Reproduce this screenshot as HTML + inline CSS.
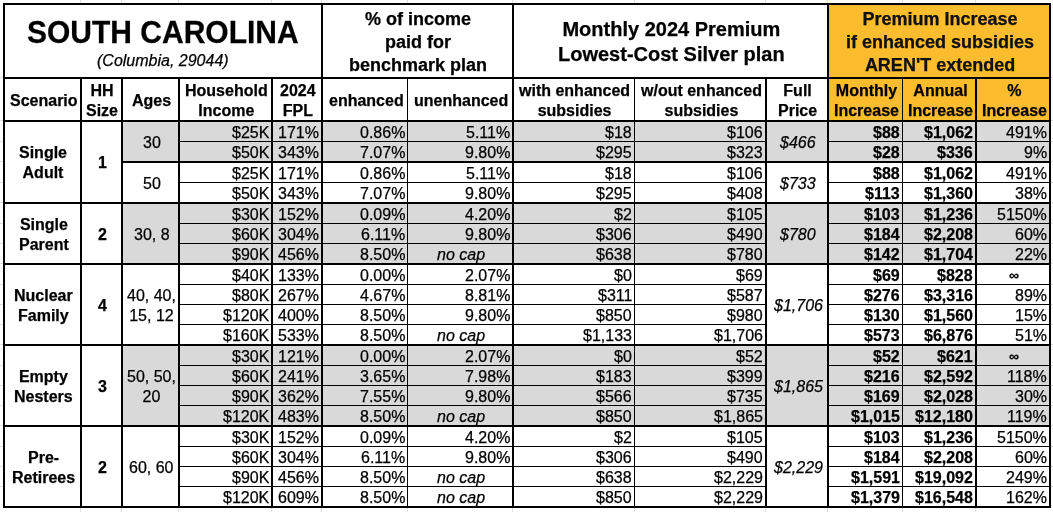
<!DOCTYPE html>
<html><head><meta charset="utf-8"><style>
*{margin:0;padding:0;box-sizing:border-box}
html,body{width:1053px;height:512px;overflow:hidden;background:#fff}
body{position:relative;font-family:"Liberation Sans",sans-serif;color:#000}
div{position:absolute}
.k{background:#000}
.t{display:flex;align-items:center;white-space:nowrap;font-size:16px;line-height:20px;-webkit-text-stroke:0.25px #000}
.t span{will-change:transform}
.t span{display:block}
.hb{font-weight:bold}
.bd{font-weight:bold}
.it{font-style:italic}
.inf{font-size:14px;font-weight:bold;margin-top:-1px}
.b18{font-weight:bold;font-size:18px;line-height:23px}
.b18o{font-weight:bold;font-size:18px;line-height:23px;color:#111}
.b20{font-weight:bold;font-size:20px;line-height:25px}
.big{font-size:30px;line-height:36px;font-weight:bold}.big span{transform:scaleY(1.065)}
.sub{font-style:italic}
</style></head><body>
<div style="left:829px;top:5px;width:220px;height:115px;background:#fbbc2e"></div><div style="left:123px;top:122px;width:926px;height:39px;background:#d9d9d9"></div><div style="left:123px;top:204px;width:926px;height:59px;background:#d9d9d9"></div><div style="left:123px;top:346px;width:926px;height:79px;background:#d9d9d9"></div><div class="t big" style="left:5px;top:14px;width:316px;height:36px;justify-content:center"><span>SOUTH CAROLINA</span></div><div class="t sub" style="left:5px;top:51px;width:316px;height:20px;justify-content:center"><span>(Columbia, 29044)</span></div><div class="t b18" style="left:324px;top:6px;width:189px;height:72px;justify-content:center;text-align:center;"><span>% of income<br>paid for<br>benchmark plan</span></div><div class="t b20" style="left:515px;top:6px;width:313px;height:72px;justify-content:center;text-align:center;"><span>Monthly 2024 Premium<br>Lowest-Cost Silver plan</span></div><div class="t b18o" style="left:830px;top:6px;width:220px;height:72px;justify-content:center;text-align:center;"><span>Premium Increase<br>if enhanced subsidies<br>AREN'T extended</span></div><div class="t hb" style="left:6px;top:80px;width:75px;height:41px;justify-content:center;text-align:center;"><span>Scenario</span></div><div class="t hb" style="left:83px;top:80px;width:39px;height:41px;justify-content:center;text-align:center;"><span>HH<br>Size</span></div><div class="t hb" style="left:124px;top:80px;width:55px;height:41px;justify-content:center;text-align:center;"><span>Ages</span></div><div class="t hb" style="left:181px;top:80px;width:91px;height:41px;justify-content:center;text-align:center;"><span>Household<br>Income</span></div><div class="t hb" style="left:274px;top:80px;width:48px;height:41px;justify-content:center;text-align:center;"><span>2024<br>FPL</span></div><div class="t hb" style="left:324px;top:80px;width:84px;height:41px;justify-content:center;text-align:center;"><span>enhanced</span></div><div class="t hb" style="left:409px;top:80px;width:104px;height:41px;justify-content:center;text-align:center;"><span>unenhanced</span></div><div class="t hb" style="left:515px;top:80px;width:120px;height:41px;justify-content:center;text-align:center;"><span>with enhanced<br>subsidies</span></div><div class="t hb" style="left:636px;top:80px;width:130px;height:41px;justify-content:center;text-align:center;"><span>w/out enhanced<br>subsidies</span></div><div class="t hb" style="left:768px;top:80px;width:60px;height:41px;justify-content:center;text-align:center;"><span>Full<br>Price</span></div><div class="t hb" style="left:830px;top:80px;width:73px;height:41px;justify-content:center;text-align:center;"><span>Monthly<br>Increase</span></div><div class="t hb" style="left:904px;top:80px;width:72px;height:41px;justify-content:center;text-align:center;"><span>Annual<br>Increase</span></div><div class="t hb" style="left:978px;top:80px;width:72px;height:41px;justify-content:center;text-align:center;"><span>%<br>Increase</span></div><div class="t rg" style="left:180px;top:123px;width:91px;height:19px;justify-content:flex-end;text-align:right;padding-right:2px;"><span>$25K</span></div><div class="t rg" style="left:273px;top:123px;width:48px;height:19px;justify-content:flex-end;text-align:right;padding-right:2px;"><span>171%</span></div><div class="t rg" style="left:323px;top:123px;width:84px;height:19px;justify-content:flex-end;text-align:right;padding-right:2px;"><span>0.86%</span></div><div class="t rg" style="left:408px;top:123px;width:104px;height:19px;justify-content:flex-end;text-align:right;padding-right:2px;"><span>5.11%</span></div><div class="t rg" style="left:514px;top:123px;width:120px;height:19px;justify-content:flex-end;text-align:right;padding-right:2px;"><span>$18</span></div><div class="t rg" style="left:635px;top:123px;width:130px;height:19px;justify-content:flex-end;text-align:right;padding-right:2px;"><span>$106</span></div><div class="t bd" style="left:829px;top:123px;width:73px;height:19px;justify-content:flex-end;text-align:right;padding-right:2px;"><span>$88</span></div><div class="t bd" style="left:903px;top:123px;width:72px;height:19px;justify-content:flex-end;text-align:right;padding-right:2px;"><span>$1,062</span></div><div class="t rg" style="left:977px;top:123px;width:72px;height:19px;justify-content:flex-end;text-align:right;padding-right:2px;"><span>491%</span></div><div class="t rg" style="left:180px;top:143px;width:91px;height:19px;justify-content:flex-end;text-align:right;padding-right:2px;"><span>$50K</span></div><div class="t rg" style="left:273px;top:143px;width:48px;height:19px;justify-content:flex-end;text-align:right;padding-right:2px;"><span>343%</span></div><div class="t rg" style="left:323px;top:143px;width:84px;height:19px;justify-content:flex-end;text-align:right;padding-right:2px;"><span>7.07%</span></div><div class="t rg" style="left:408px;top:143px;width:104px;height:19px;justify-content:flex-end;text-align:right;padding-right:2px;"><span>9.80%</span></div><div class="t rg" style="left:514px;top:143px;width:120px;height:19px;justify-content:flex-end;text-align:right;padding-right:2px;"><span>$295</span></div><div class="t rg" style="left:635px;top:143px;width:130px;height:19px;justify-content:flex-end;text-align:right;padding-right:2px;"><span>$323</span></div><div class="t bd" style="left:829px;top:143px;width:73px;height:19px;justify-content:flex-end;text-align:right;padding-right:2px;"><span>$28</span></div><div class="t bd" style="left:903px;top:143px;width:72px;height:19px;justify-content:flex-end;text-align:right;padding-right:2px;"><span>$336</span></div><div class="t rg" style="left:977px;top:143px;width:72px;height:19px;justify-content:flex-end;text-align:right;padding-right:2px;"><span>9%</span></div><div class="t rg" style="left:180px;top:164px;width:91px;height:19px;justify-content:flex-end;text-align:right;padding-right:2px;"><span>$25K</span></div><div class="t rg" style="left:273px;top:164px;width:48px;height:19px;justify-content:flex-end;text-align:right;padding-right:2px;"><span>171%</span></div><div class="t rg" style="left:323px;top:164px;width:84px;height:19px;justify-content:flex-end;text-align:right;padding-right:2px;"><span>0.86%</span></div><div class="t rg" style="left:408px;top:164px;width:104px;height:19px;justify-content:flex-end;text-align:right;padding-right:2px;"><span>5.11%</span></div><div class="t rg" style="left:514px;top:164px;width:120px;height:19px;justify-content:flex-end;text-align:right;padding-right:2px;"><span>$18</span></div><div class="t rg" style="left:635px;top:164px;width:130px;height:19px;justify-content:flex-end;text-align:right;padding-right:2px;"><span>$106</span></div><div class="t bd" style="left:829px;top:164px;width:73px;height:19px;justify-content:flex-end;text-align:right;padding-right:2px;"><span>$88</span></div><div class="t bd" style="left:903px;top:164px;width:72px;height:19px;justify-content:flex-end;text-align:right;padding-right:2px;"><span>$1,062</span></div><div class="t rg" style="left:977px;top:164px;width:72px;height:19px;justify-content:flex-end;text-align:right;padding-right:2px;"><span>491%</span></div><div class="t rg" style="left:180px;top:184px;width:91px;height:19px;justify-content:flex-end;text-align:right;padding-right:2px;"><span>$50K</span></div><div class="t rg" style="left:273px;top:184px;width:48px;height:19px;justify-content:flex-end;text-align:right;padding-right:2px;"><span>343%</span></div><div class="t rg" style="left:323px;top:184px;width:84px;height:19px;justify-content:flex-end;text-align:right;padding-right:2px;"><span>7.07%</span></div><div class="t rg" style="left:408px;top:184px;width:104px;height:19px;justify-content:flex-end;text-align:right;padding-right:2px;"><span>9.80%</span></div><div class="t rg" style="left:514px;top:184px;width:120px;height:19px;justify-content:flex-end;text-align:right;padding-right:2px;"><span>$295</span></div><div class="t rg" style="left:635px;top:184px;width:130px;height:19px;justify-content:flex-end;text-align:right;padding-right:2px;"><span>$408</span></div><div class="t bd" style="left:829px;top:184px;width:73px;height:19px;justify-content:flex-end;text-align:right;padding-right:2px;"><span>$113</span></div><div class="t bd" style="left:903px;top:184px;width:72px;height:19px;justify-content:flex-end;text-align:right;padding-right:2px;"><span>$1,360</span></div><div class="t rg" style="left:977px;top:184px;width:72px;height:19px;justify-content:flex-end;text-align:right;padding-right:2px;"><span>38%</span></div><div class="t rg" style="left:180px;top:205px;width:91px;height:19px;justify-content:flex-end;text-align:right;padding-right:2px;"><span>$30K</span></div><div class="t rg" style="left:273px;top:205px;width:48px;height:19px;justify-content:flex-end;text-align:right;padding-right:2px;"><span>152%</span></div><div class="t rg" style="left:323px;top:205px;width:84px;height:19px;justify-content:flex-end;text-align:right;padding-right:2px;"><span>0.09%</span></div><div class="t rg" style="left:408px;top:205px;width:104px;height:19px;justify-content:flex-end;text-align:right;padding-right:2px;"><span>4.20%</span></div><div class="t rg" style="left:514px;top:205px;width:120px;height:19px;justify-content:flex-end;text-align:right;padding-right:2px;"><span>$2</span></div><div class="t rg" style="left:635px;top:205px;width:130px;height:19px;justify-content:flex-end;text-align:right;padding-right:2px;"><span>$105</span></div><div class="t bd" style="left:829px;top:205px;width:73px;height:19px;justify-content:flex-end;text-align:right;padding-right:2px;"><span>$103</span></div><div class="t bd" style="left:903px;top:205px;width:72px;height:19px;justify-content:flex-end;text-align:right;padding-right:2px;"><span>$1,236</span></div><div class="t rg" style="left:977px;top:205px;width:72px;height:19px;justify-content:flex-end;text-align:right;padding-right:2px;"><span>5150%</span></div><div class="t rg" style="left:180px;top:225px;width:91px;height:19px;justify-content:flex-end;text-align:right;padding-right:2px;"><span>$60K</span></div><div class="t rg" style="left:273px;top:225px;width:48px;height:19px;justify-content:flex-end;text-align:right;padding-right:2px;"><span>304%</span></div><div class="t rg" style="left:323px;top:225px;width:84px;height:19px;justify-content:flex-end;text-align:right;padding-right:2px;"><span>6.11%</span></div><div class="t rg" style="left:408px;top:225px;width:104px;height:19px;justify-content:flex-end;text-align:right;padding-right:2px;"><span>9.80%</span></div><div class="t rg" style="left:514px;top:225px;width:120px;height:19px;justify-content:flex-end;text-align:right;padding-right:2px;"><span>$306</span></div><div class="t rg" style="left:635px;top:225px;width:130px;height:19px;justify-content:flex-end;text-align:right;padding-right:2px;"><span>$490</span></div><div class="t bd" style="left:829px;top:225px;width:73px;height:19px;justify-content:flex-end;text-align:right;padding-right:2px;"><span>$184</span></div><div class="t bd" style="left:903px;top:225px;width:72px;height:19px;justify-content:flex-end;text-align:right;padding-right:2px;"><span>$2,208</span></div><div class="t rg" style="left:977px;top:225px;width:72px;height:19px;justify-content:flex-end;text-align:right;padding-right:2px;"><span>60%</span></div><div class="t rg" style="left:180px;top:245px;width:91px;height:19px;justify-content:flex-end;text-align:right;padding-right:2px;"><span>$90K</span></div><div class="t rg" style="left:273px;top:245px;width:48px;height:19px;justify-content:flex-end;text-align:right;padding-right:2px;"><span>456%</span></div><div class="t rg" style="left:323px;top:245px;width:84px;height:19px;justify-content:flex-end;text-align:right;padding-right:2px;"><span>8.50%</span></div><div class="t it" style="left:409px;top:245px;width:104px;height:19px;justify-content:center;text-align:center;"><span>no cap</span></div><div class="t rg" style="left:514px;top:245px;width:120px;height:19px;justify-content:flex-end;text-align:right;padding-right:2px;"><span>$638</span></div><div class="t rg" style="left:635px;top:245px;width:130px;height:19px;justify-content:flex-end;text-align:right;padding-right:2px;"><span>$780</span></div><div class="t bd" style="left:829px;top:245px;width:73px;height:19px;justify-content:flex-end;text-align:right;padding-right:2px;"><span>$142</span></div><div class="t bd" style="left:903px;top:245px;width:72px;height:19px;justify-content:flex-end;text-align:right;padding-right:2px;"><span>$1,704</span></div><div class="t rg" style="left:977px;top:245px;width:72px;height:19px;justify-content:flex-end;text-align:right;padding-right:2px;"><span>22%</span></div><div class="t rg" style="left:180px;top:266px;width:91px;height:19px;justify-content:flex-end;text-align:right;padding-right:2px;"><span>$40K</span></div><div class="t rg" style="left:273px;top:266px;width:48px;height:19px;justify-content:flex-end;text-align:right;padding-right:2px;"><span>133%</span></div><div class="t rg" style="left:323px;top:266px;width:84px;height:19px;justify-content:flex-end;text-align:right;padding-right:2px;"><span>0.00%</span></div><div class="t rg" style="left:408px;top:266px;width:104px;height:19px;justify-content:flex-end;text-align:right;padding-right:2px;"><span>2.07%</span></div><div class="t rg" style="left:514px;top:266px;width:120px;height:19px;justify-content:flex-end;text-align:right;padding-right:2px;"><span>$0</span></div><div class="t rg" style="left:635px;top:266px;width:130px;height:19px;justify-content:flex-end;text-align:right;padding-right:2px;"><span>$69</span></div><div class="t bd" style="left:829px;top:266px;width:73px;height:19px;justify-content:flex-end;text-align:right;padding-right:2px;"><span>$69</span></div><div class="t bd" style="left:903px;top:266px;width:72px;height:19px;justify-content:flex-end;text-align:right;padding-right:2px;"><span>$828</span></div><div class="t inf" style="left:978px;top:266px;width:72px;height:19px;justify-content:center;text-align:center;"><span>&#8734;</span></div><div class="t rg" style="left:180px;top:286px;width:91px;height:19px;justify-content:flex-end;text-align:right;padding-right:2px;"><span>$80K</span></div><div class="t rg" style="left:273px;top:286px;width:48px;height:19px;justify-content:flex-end;text-align:right;padding-right:2px;"><span>267%</span></div><div class="t rg" style="left:323px;top:286px;width:84px;height:19px;justify-content:flex-end;text-align:right;padding-right:2px;"><span>4.67%</span></div><div class="t rg" style="left:408px;top:286px;width:104px;height:19px;justify-content:flex-end;text-align:right;padding-right:2px;"><span>8.81%</span></div><div class="t rg" style="left:514px;top:286px;width:120px;height:19px;justify-content:flex-end;text-align:right;padding-right:2px;"><span>$311</span></div><div class="t rg" style="left:635px;top:286px;width:130px;height:19px;justify-content:flex-end;text-align:right;padding-right:2px;"><span>$587</span></div><div class="t bd" style="left:829px;top:286px;width:73px;height:19px;justify-content:flex-end;text-align:right;padding-right:2px;"><span>$276</span></div><div class="t bd" style="left:903px;top:286px;width:72px;height:19px;justify-content:flex-end;text-align:right;padding-right:2px;"><span>$3,316</span></div><div class="t rg" style="left:977px;top:286px;width:72px;height:19px;justify-content:flex-end;text-align:right;padding-right:2px;"><span>89%</span></div><div class="t rg" style="left:180px;top:306px;width:91px;height:19px;justify-content:flex-end;text-align:right;padding-right:2px;"><span>$120K</span></div><div class="t rg" style="left:273px;top:306px;width:48px;height:19px;justify-content:flex-end;text-align:right;padding-right:2px;"><span>400%</span></div><div class="t rg" style="left:323px;top:306px;width:84px;height:19px;justify-content:flex-end;text-align:right;padding-right:2px;"><span>8.50%</span></div><div class="t rg" style="left:408px;top:306px;width:104px;height:19px;justify-content:flex-end;text-align:right;padding-right:2px;"><span>9.80%</span></div><div class="t rg" style="left:514px;top:306px;width:120px;height:19px;justify-content:flex-end;text-align:right;padding-right:2px;"><span>$850</span></div><div class="t rg" style="left:635px;top:306px;width:130px;height:19px;justify-content:flex-end;text-align:right;padding-right:2px;"><span>$980</span></div><div class="t bd" style="left:829px;top:306px;width:73px;height:19px;justify-content:flex-end;text-align:right;padding-right:2px;"><span>$130</span></div><div class="t bd" style="left:903px;top:306px;width:72px;height:19px;justify-content:flex-end;text-align:right;padding-right:2px;"><span>$1,560</span></div><div class="t rg" style="left:977px;top:306px;width:72px;height:19px;justify-content:flex-end;text-align:right;padding-right:2px;"><span>15%</span></div><div class="t rg" style="left:180px;top:326px;width:91px;height:19px;justify-content:flex-end;text-align:right;padding-right:2px;"><span>$160K</span></div><div class="t rg" style="left:273px;top:326px;width:48px;height:19px;justify-content:flex-end;text-align:right;padding-right:2px;"><span>533%</span></div><div class="t rg" style="left:323px;top:326px;width:84px;height:19px;justify-content:flex-end;text-align:right;padding-right:2px;"><span>8.50%</span></div><div class="t it" style="left:409px;top:326px;width:104px;height:19px;justify-content:center;text-align:center;"><span>no cap</span></div><div class="t rg" style="left:514px;top:326px;width:120px;height:19px;justify-content:flex-end;text-align:right;padding-right:2px;"><span>$1,133</span></div><div class="t rg" style="left:635px;top:326px;width:130px;height:19px;justify-content:flex-end;text-align:right;padding-right:2px;"><span>$1,706</span></div><div class="t bd" style="left:829px;top:326px;width:73px;height:19px;justify-content:flex-end;text-align:right;padding-right:2px;"><span>$573</span></div><div class="t bd" style="left:903px;top:326px;width:72px;height:19px;justify-content:flex-end;text-align:right;padding-right:2px;"><span>$6,876</span></div><div class="t rg" style="left:977px;top:326px;width:72px;height:19px;justify-content:flex-end;text-align:right;padding-right:2px;"><span>51%</span></div><div class="t rg" style="left:180px;top:347px;width:91px;height:19px;justify-content:flex-end;text-align:right;padding-right:2px;"><span>$30K</span></div><div class="t rg" style="left:273px;top:347px;width:48px;height:19px;justify-content:flex-end;text-align:right;padding-right:2px;"><span>121%</span></div><div class="t rg" style="left:323px;top:347px;width:84px;height:19px;justify-content:flex-end;text-align:right;padding-right:2px;"><span>0.00%</span></div><div class="t rg" style="left:408px;top:347px;width:104px;height:19px;justify-content:flex-end;text-align:right;padding-right:2px;"><span>2.07%</span></div><div class="t rg" style="left:514px;top:347px;width:120px;height:19px;justify-content:flex-end;text-align:right;padding-right:2px;"><span>$0</span></div><div class="t rg" style="left:635px;top:347px;width:130px;height:19px;justify-content:flex-end;text-align:right;padding-right:2px;"><span>$52</span></div><div class="t bd" style="left:829px;top:347px;width:73px;height:19px;justify-content:flex-end;text-align:right;padding-right:2px;"><span>$52</span></div><div class="t bd" style="left:903px;top:347px;width:72px;height:19px;justify-content:flex-end;text-align:right;padding-right:2px;"><span>$621</span></div><div class="t inf" style="left:978px;top:347px;width:72px;height:19px;justify-content:center;text-align:center;"><span>&#8734;</span></div><div class="t rg" style="left:180px;top:367px;width:91px;height:19px;justify-content:flex-end;text-align:right;padding-right:2px;"><span>$60K</span></div><div class="t rg" style="left:273px;top:367px;width:48px;height:19px;justify-content:flex-end;text-align:right;padding-right:2px;"><span>241%</span></div><div class="t rg" style="left:323px;top:367px;width:84px;height:19px;justify-content:flex-end;text-align:right;padding-right:2px;"><span>3.65%</span></div><div class="t rg" style="left:408px;top:367px;width:104px;height:19px;justify-content:flex-end;text-align:right;padding-right:2px;"><span>7.98%</span></div><div class="t rg" style="left:514px;top:367px;width:120px;height:19px;justify-content:flex-end;text-align:right;padding-right:2px;"><span>$183</span></div><div class="t rg" style="left:635px;top:367px;width:130px;height:19px;justify-content:flex-end;text-align:right;padding-right:2px;"><span>$399</span></div><div class="t bd" style="left:829px;top:367px;width:73px;height:19px;justify-content:flex-end;text-align:right;padding-right:2px;"><span>$216</span></div><div class="t bd" style="left:903px;top:367px;width:72px;height:19px;justify-content:flex-end;text-align:right;padding-right:2px;"><span>$2,592</span></div><div class="t rg" style="left:977px;top:367px;width:72px;height:19px;justify-content:flex-end;text-align:right;padding-right:2px;"><span>118%</span></div><div class="t rg" style="left:180px;top:387px;width:91px;height:19px;justify-content:flex-end;text-align:right;padding-right:2px;"><span>$90K</span></div><div class="t rg" style="left:273px;top:387px;width:48px;height:19px;justify-content:flex-end;text-align:right;padding-right:2px;"><span>362%</span></div><div class="t rg" style="left:323px;top:387px;width:84px;height:19px;justify-content:flex-end;text-align:right;padding-right:2px;"><span>7.55%</span></div><div class="t rg" style="left:408px;top:387px;width:104px;height:19px;justify-content:flex-end;text-align:right;padding-right:2px;"><span>9.80%</span></div><div class="t rg" style="left:514px;top:387px;width:120px;height:19px;justify-content:flex-end;text-align:right;padding-right:2px;"><span>$566</span></div><div class="t rg" style="left:635px;top:387px;width:130px;height:19px;justify-content:flex-end;text-align:right;padding-right:2px;"><span>$735</span></div><div class="t bd" style="left:829px;top:387px;width:73px;height:19px;justify-content:flex-end;text-align:right;padding-right:2px;"><span>$169</span></div><div class="t bd" style="left:903px;top:387px;width:72px;height:19px;justify-content:flex-end;text-align:right;padding-right:2px;"><span>$2,028</span></div><div class="t rg" style="left:977px;top:387px;width:72px;height:19px;justify-content:flex-end;text-align:right;padding-right:2px;"><span>30%</span></div><div class="t rg" style="left:180px;top:407px;width:91px;height:19px;justify-content:flex-end;text-align:right;padding-right:2px;"><span>$120K</span></div><div class="t rg" style="left:273px;top:407px;width:48px;height:19px;justify-content:flex-end;text-align:right;padding-right:2px;"><span>483%</span></div><div class="t rg" style="left:323px;top:407px;width:84px;height:19px;justify-content:flex-end;text-align:right;padding-right:2px;"><span>8.50%</span></div><div class="t it" style="left:409px;top:407px;width:104px;height:19px;justify-content:center;text-align:center;"><span>no cap</span></div><div class="t rg" style="left:514px;top:407px;width:120px;height:19px;justify-content:flex-end;text-align:right;padding-right:2px;"><span>$850</span></div><div class="t rg" style="left:635px;top:407px;width:130px;height:19px;justify-content:flex-end;text-align:right;padding-right:2px;"><span>$1,865</span></div><div class="t bd" style="left:829px;top:407px;width:73px;height:19px;justify-content:flex-end;text-align:right;padding-right:2px;"><span>$1,015</span></div><div class="t bd" style="left:903px;top:407px;width:72px;height:19px;justify-content:flex-end;text-align:right;padding-right:2px;"><span>$12,180</span></div><div class="t rg" style="left:977px;top:407px;width:72px;height:19px;justify-content:flex-end;text-align:right;padding-right:2px;"><span>119%</span></div><div class="t rg" style="left:180px;top:428px;width:91px;height:19px;justify-content:flex-end;text-align:right;padding-right:2px;"><span>$30K</span></div><div class="t rg" style="left:273px;top:428px;width:48px;height:19px;justify-content:flex-end;text-align:right;padding-right:2px;"><span>152%</span></div><div class="t rg" style="left:323px;top:428px;width:84px;height:19px;justify-content:flex-end;text-align:right;padding-right:2px;"><span>0.09%</span></div><div class="t rg" style="left:408px;top:428px;width:104px;height:19px;justify-content:flex-end;text-align:right;padding-right:2px;"><span>4.20%</span></div><div class="t rg" style="left:514px;top:428px;width:120px;height:19px;justify-content:flex-end;text-align:right;padding-right:2px;"><span>$2</span></div><div class="t rg" style="left:635px;top:428px;width:130px;height:19px;justify-content:flex-end;text-align:right;padding-right:2px;"><span>$105</span></div><div class="t bd" style="left:829px;top:428px;width:73px;height:19px;justify-content:flex-end;text-align:right;padding-right:2px;"><span>$103</span></div><div class="t bd" style="left:903px;top:428px;width:72px;height:19px;justify-content:flex-end;text-align:right;padding-right:2px;"><span>$1,236</span></div><div class="t rg" style="left:977px;top:428px;width:72px;height:19px;justify-content:flex-end;text-align:right;padding-right:2px;"><span>5150%</span></div><div class="t rg" style="left:180px;top:448px;width:91px;height:19px;justify-content:flex-end;text-align:right;padding-right:2px;"><span>$60K</span></div><div class="t rg" style="left:273px;top:448px;width:48px;height:19px;justify-content:flex-end;text-align:right;padding-right:2px;"><span>304%</span></div><div class="t rg" style="left:323px;top:448px;width:84px;height:19px;justify-content:flex-end;text-align:right;padding-right:2px;"><span>6.11%</span></div><div class="t rg" style="left:408px;top:448px;width:104px;height:19px;justify-content:flex-end;text-align:right;padding-right:2px;"><span>9.80%</span></div><div class="t rg" style="left:514px;top:448px;width:120px;height:19px;justify-content:flex-end;text-align:right;padding-right:2px;"><span>$306</span></div><div class="t rg" style="left:635px;top:448px;width:130px;height:19px;justify-content:flex-end;text-align:right;padding-right:2px;"><span>$490</span></div><div class="t bd" style="left:829px;top:448px;width:73px;height:19px;justify-content:flex-end;text-align:right;padding-right:2px;"><span>$184</span></div><div class="t bd" style="left:903px;top:448px;width:72px;height:19px;justify-content:flex-end;text-align:right;padding-right:2px;"><span>$2,208</span></div><div class="t rg" style="left:977px;top:448px;width:72px;height:19px;justify-content:flex-end;text-align:right;padding-right:2px;"><span>60%</span></div><div class="t rg" style="left:180px;top:468px;width:91px;height:19px;justify-content:flex-end;text-align:right;padding-right:2px;"><span>$90K</span></div><div class="t rg" style="left:273px;top:468px;width:48px;height:19px;justify-content:flex-end;text-align:right;padding-right:2px;"><span>456%</span></div><div class="t rg" style="left:323px;top:468px;width:84px;height:19px;justify-content:flex-end;text-align:right;padding-right:2px;"><span>8.50%</span></div><div class="t it" style="left:409px;top:468px;width:104px;height:19px;justify-content:center;text-align:center;"><span>no cap</span></div><div class="t rg" style="left:514px;top:468px;width:120px;height:19px;justify-content:flex-end;text-align:right;padding-right:2px;"><span>$638</span></div><div class="t rg" style="left:635px;top:468px;width:130px;height:19px;justify-content:flex-end;text-align:right;padding-right:2px;"><span>$2,229</span></div><div class="t bd" style="left:829px;top:468px;width:73px;height:19px;justify-content:flex-end;text-align:right;padding-right:2px;"><span>$1,591</span></div><div class="t bd" style="left:903px;top:468px;width:72px;height:19px;justify-content:flex-end;text-align:right;padding-right:2px;"><span>$19,092</span></div><div class="t rg" style="left:977px;top:468px;width:72px;height:19px;justify-content:flex-end;text-align:right;padding-right:2px;"><span>249%</span></div><div class="t rg" style="left:180px;top:488px;width:91px;height:19px;justify-content:flex-end;text-align:right;padding-right:2px;"><span>$120K</span></div><div class="t rg" style="left:273px;top:488px;width:48px;height:19px;justify-content:flex-end;text-align:right;padding-right:2px;"><span>609%</span></div><div class="t rg" style="left:323px;top:488px;width:84px;height:19px;justify-content:flex-end;text-align:right;padding-right:2px;"><span>8.50%</span></div><div class="t it" style="left:409px;top:488px;width:104px;height:19px;justify-content:center;text-align:center;"><span>no cap</span></div><div class="t rg" style="left:514px;top:488px;width:120px;height:19px;justify-content:flex-end;text-align:right;padding-right:2px;"><span>$850</span></div><div class="t rg" style="left:635px;top:488px;width:130px;height:19px;justify-content:flex-end;text-align:right;padding-right:2px;"><span>$2,229</span></div><div class="t bd" style="left:829px;top:488px;width:73px;height:19px;justify-content:flex-end;text-align:right;padding-right:2px;"><span>$1,379</span></div><div class="t bd" style="left:903px;top:488px;width:72px;height:19px;justify-content:flex-end;text-align:right;padding-right:2px;"><span>$16,548</span></div><div class="t rg" style="left:977px;top:488px;width:72px;height:19px;justify-content:flex-end;text-align:right;padding-right:2px;"><span>162%</span></div><div class="t hb" style="left:6px;top:123px;width:75px;height:80px;justify-content:center;text-align:center;"><span>Single<br>Adult</span></div><div class="t hb" style="left:83px;top:123px;width:39px;height:80px;justify-content:center;text-align:center;"><span>1</span></div><div class="t hb" style="left:6px;top:205px;width:75px;height:59px;justify-content:center;text-align:center;"><span>Single<br>Parent</span></div><div class="t hb" style="left:83px;top:205px;width:39px;height:59px;justify-content:center;text-align:center;"><span>2</span></div><div class="t hb" style="left:6px;top:266px;width:75px;height:79px;justify-content:center;text-align:center;"><span>Nuclear<br>Family</span></div><div class="t hb" style="left:83px;top:266px;width:39px;height:79px;justify-content:center;text-align:center;"><span>4</span></div><div class="t hb" style="left:6px;top:347px;width:75px;height:79px;justify-content:center;text-align:center;"><span>Empty<br>Nesters</span></div><div class="t hb" style="left:83px;top:347px;width:39px;height:79px;justify-content:center;text-align:center;"><span>3</span></div><div class="t hb" style="left:6px;top:428px;width:75px;height:79px;justify-content:center;text-align:center;"><span>Pre-<br>Retirees</span></div><div class="t hb" style="left:83px;top:428px;width:39px;height:79px;justify-content:center;text-align:center;"><span>2</span></div><div class="t rg" style="left:124px;top:123px;width:55px;height:39px;justify-content:center;text-align:center;"><span>30</span></div><div class="t rg" style="left:124px;top:164px;width:55px;height:39px;justify-content:center;text-align:center;"><span>50</span></div><div class="t rg" style="left:124px;top:205px;width:55px;height:59px;justify-content:center;text-align:center;"><span>30, 8</span></div><div class="t rg" style="left:124px;top:266px;width:55px;height:79px;justify-content:center;text-align:center;"><span>40, 40,<br>15, 12</span></div><div class="t rg" style="left:124px;top:347px;width:55px;height:79px;justify-content:center;text-align:center;"><span>50, 50,<br>20</span></div><div class="t rg" style="left:124px;top:428px;width:55px;height:79px;justify-content:center;text-align:center;"><span>60, 60</span></div><div class="t it" style="left:768px;top:123px;width:60px;height:39px;justify-content:center;text-align:center;"><span>$466</span></div><div class="t it" style="left:768px;top:164px;width:60px;height:39px;justify-content:center;text-align:center;"><span>$733</span></div><div class="t it" style="left:768px;top:205px;width:60px;height:59px;justify-content:center;text-align:center;"><span>$780</span></div><div class="t it" style="left:768px;top:266px;width:60px;height:79px;justify-content:center;text-align:center;"><span>$1,706</span></div><div class="t it" style="left:768px;top:347px;width:60px;height:79px;justify-content:center;text-align:center;"><span>$1,865</span></div><div class="t it" style="left:768px;top:428px;width:60px;height:79px;justify-content:center;text-align:center;"><span>$2,229</span></div>
<div style="left:80px;top:0;width:1px;height:3px;background:#dedede"></div><div style="left:80px;top:508px;width:1px;height:4px;background:#dedede"></div><div style="left:121px;top:0;width:1px;height:3px;background:#dedede"></div><div style="left:121px;top:508px;width:1px;height:4px;background:#dedede"></div><div style="left:178px;top:0;width:1px;height:3px;background:#dedede"></div><div style="left:178px;top:508px;width:1px;height:4px;background:#dedede"></div><div style="left:271px;top:0;width:1px;height:3px;background:#dedede"></div><div style="left:271px;top:508px;width:1px;height:4px;background:#dedede"></div><div style="left:321px;top:0;width:1px;height:3px;background:#dedede"></div><div style="left:321px;top:508px;width:1px;height:4px;background:#dedede"></div><div style="left:407px;top:0;width:1px;height:3px;background:#dedede"></div><div style="left:407px;top:508px;width:1px;height:4px;background:#dedede"></div><div style="left:512px;top:0;width:1px;height:3px;background:#dedede"></div><div style="left:512px;top:508px;width:1px;height:4px;background:#dedede"></div><div style="left:634px;top:0;width:1px;height:3px;background:#dedede"></div><div style="left:634px;top:508px;width:1px;height:4px;background:#dedede"></div><div style="left:765px;top:0;width:1px;height:3px;background:#dedede"></div><div style="left:765px;top:508px;width:1px;height:4px;background:#dedede"></div><div style="left:827px;top:0;width:1px;height:3px;background:#dedede"></div><div style="left:827px;top:508px;width:1px;height:4px;background:#dedede"></div><div style="left:902px;top:0;width:1px;height:3px;background:#dedede"></div><div style="left:902px;top:508px;width:1px;height:4px;background:#dedede"></div><div style="left:975px;top:0;width:1px;height:3px;background:#dedede"></div><div style="left:975px;top:508px;width:1px;height:4px;background:#dedede"></div><div style="left:0;top:77px;width:3px;height:1px;background:#dedede"></div><div style="left:1051px;top:77px;width:2px;height:1px;background:#dedede"></div><div style="left:0;top:120px;width:3px;height:1px;background:#dedede"></div><div style="left:1051px;top:120px;width:2px;height:1px;background:#dedede"></div><div style="left:0;top:141px;width:3px;height:1px;background:#dedede"></div><div style="left:1051px;top:141px;width:2px;height:1px;background:#dedede"></div><div style="left:0;top:161px;width:3px;height:1px;background:#dedede"></div><div style="left:1051px;top:161px;width:2px;height:1px;background:#dedede"></div><div style="left:0;top:182px;width:3px;height:1px;background:#dedede"></div><div style="left:1051px;top:182px;width:2px;height:1px;background:#dedede"></div><div style="left:0;top:202px;width:3px;height:1px;background:#dedede"></div><div style="left:1051px;top:202px;width:2px;height:1px;background:#dedede"></div><div style="left:0;top:223px;width:3px;height:1px;background:#dedede"></div><div style="left:1051px;top:223px;width:2px;height:1px;background:#dedede"></div><div style="left:0;top:243px;width:3px;height:1px;background:#dedede"></div><div style="left:1051px;top:243px;width:2px;height:1px;background:#dedede"></div><div style="left:0;top:263px;width:3px;height:1px;background:#dedede"></div><div style="left:1051px;top:263px;width:2px;height:1px;background:#dedede"></div><div style="left:0;top:284px;width:3px;height:1px;background:#dedede"></div><div style="left:1051px;top:284px;width:2px;height:1px;background:#dedede"></div><div style="left:0;top:304px;width:3px;height:1px;background:#dedede"></div><div style="left:1051px;top:304px;width:2px;height:1px;background:#dedede"></div><div style="left:0;top:324px;width:3px;height:1px;background:#dedede"></div><div style="left:1051px;top:324px;width:2px;height:1px;background:#dedede"></div><div style="left:0;top:344px;width:3px;height:1px;background:#dedede"></div><div style="left:1051px;top:344px;width:2px;height:1px;background:#dedede"></div><div style="left:0;top:365px;width:3px;height:1px;background:#dedede"></div><div style="left:1051px;top:365px;width:2px;height:1px;background:#dedede"></div><div style="left:0;top:385px;width:3px;height:1px;background:#dedede"></div><div style="left:1051px;top:385px;width:2px;height:1px;background:#dedede"></div><div style="left:0;top:405px;width:3px;height:1px;background:#dedede"></div><div style="left:1051px;top:405px;width:2px;height:1px;background:#dedede"></div><div style="left:0;top:425px;width:3px;height:1px;background:#dedede"></div><div style="left:1051px;top:425px;width:2px;height:1px;background:#dedede"></div><div style="left:0;top:446px;width:3px;height:1px;background:#dedede"></div><div style="left:1051px;top:446px;width:2px;height:1px;background:#dedede"></div><div style="left:0;top:466px;width:3px;height:1px;background:#dedede"></div><div style="left:1051px;top:466px;width:2px;height:1px;background:#dedede"></div><div style="left:0;top:486px;width:3px;height:1px;background:#dedede"></div><div style="left:1051px;top:486px;width:2px;height:1px;background:#dedede"></div>
<div class="k" style="left:3px;top:3px;width:1048px;height:2px"></div><div class="k" style="left:3px;top:506px;width:1048px;height:2px"></div><div class="k" style="left:3px;top:3px;width:2px;height:505px"></div><div class="k" style="left:1049px;top:3px;width:2px;height:505px"></div><div class="k" style="left:3px;top:77px;width:1048px;height:2px"></div><div class="k" style="left:3px;top:120px;width:1048px;height:2px"></div><div class="k" style="left:321px;top:3px;width:2px;height:74px"></div><div class="k" style="left:512px;top:3px;width:2px;height:74px"></div><div class="k" style="left:827px;top:3px;width:2px;height:74px"></div><div class="k" style="left:80px;top:77px;width:2px;height:429px"></div><div class="k" style="left:121px;top:77px;width:2px;height:429px"></div><div class="k" style="left:178px;top:77px;width:2px;height:429px"></div><div class="k" style="left:271px;top:77px;width:2px;height:429px"></div><div class="k" style="left:321px;top:77px;width:2px;height:429px"></div><div class="k" style="left:407px;top:77px;width:1px;height:429px"></div><div class="k" style="left:512px;top:77px;width:2px;height:429px"></div><div class="k" style="left:634px;top:77px;width:1px;height:429px"></div><div class="k" style="left:765px;top:77px;width:2px;height:429px"></div><div class="k" style="left:827px;top:77px;width:2px;height:429px"></div><div class="k" style="left:902px;top:77px;width:1px;height:429px"></div><div class="k" style="left:975px;top:77px;width:2px;height:429px"></div><div class="k" style="left:178px;top:141px;width:95px;height:1px"></div><div class="k" style="left:271px;top:141px;width:52px;height:1px"></div><div class="k" style="left:321px;top:141px;width:87px;height:1px"></div><div class="k" style="left:407px;top:141px;width:107px;height:1px"></div><div class="k" style="left:512px;top:141px;width:123px;height:1px"></div><div class="k" style="left:634px;top:141px;width:133px;height:1px"></div><div class="k" style="left:827px;top:141px;width:76px;height:1px"></div><div class="k" style="left:902px;top:141px;width:75px;height:1px"></div><div class="k" style="left:975px;top:141px;width:76px;height:1px"></div><div class="k" style="left:121px;top:161px;width:59px;height:2px"></div><div class="k" style="left:178px;top:161px;width:95px;height:2px"></div><div class="k" style="left:271px;top:161px;width:52px;height:2px"></div><div class="k" style="left:321px;top:161px;width:87px;height:2px"></div><div class="k" style="left:407px;top:161px;width:107px;height:2px"></div><div class="k" style="left:512px;top:161px;width:123px;height:2px"></div><div class="k" style="left:634px;top:161px;width:133px;height:2px"></div><div class="k" style="left:765px;top:161px;width:64px;height:2px"></div><div class="k" style="left:827px;top:161px;width:76px;height:2px"></div><div class="k" style="left:902px;top:161px;width:75px;height:2px"></div><div class="k" style="left:975px;top:161px;width:76px;height:2px"></div><div class="k" style="left:178px;top:182px;width:95px;height:1px"></div><div class="k" style="left:271px;top:182px;width:52px;height:1px"></div><div class="k" style="left:321px;top:182px;width:87px;height:1px"></div><div class="k" style="left:407px;top:182px;width:107px;height:1px"></div><div class="k" style="left:512px;top:182px;width:123px;height:1px"></div><div class="k" style="left:634px;top:182px;width:133px;height:1px"></div><div class="k" style="left:827px;top:182px;width:76px;height:1px"></div><div class="k" style="left:902px;top:182px;width:75px;height:1px"></div><div class="k" style="left:975px;top:182px;width:76px;height:1px"></div><div class="k" style="left:3px;top:202px;width:79px;height:2px"></div><div class="k" style="left:80px;top:202px;width:43px;height:2px"></div><div class="k" style="left:121px;top:202px;width:59px;height:2px"></div><div class="k" style="left:178px;top:202px;width:95px;height:2px"></div><div class="k" style="left:271px;top:202px;width:52px;height:2px"></div><div class="k" style="left:321px;top:202px;width:87px;height:2px"></div><div class="k" style="left:407px;top:202px;width:107px;height:2px"></div><div class="k" style="left:512px;top:202px;width:123px;height:2px"></div><div class="k" style="left:634px;top:202px;width:133px;height:2px"></div><div class="k" style="left:765px;top:202px;width:64px;height:2px"></div><div class="k" style="left:827px;top:202px;width:76px;height:2px"></div><div class="k" style="left:902px;top:202px;width:75px;height:2px"></div><div class="k" style="left:975px;top:202px;width:76px;height:2px"></div><div class="k" style="left:178px;top:223px;width:95px;height:1px"></div><div class="k" style="left:271px;top:223px;width:52px;height:1px"></div><div class="k" style="left:321px;top:223px;width:87px;height:1px"></div><div class="k" style="left:407px;top:223px;width:107px;height:1px"></div><div class="k" style="left:512px;top:223px;width:123px;height:1px"></div><div class="k" style="left:634px;top:223px;width:133px;height:1px"></div><div class="k" style="left:827px;top:223px;width:76px;height:1px"></div><div class="k" style="left:902px;top:223px;width:75px;height:1px"></div><div class="k" style="left:975px;top:223px;width:76px;height:1px"></div><div class="k" style="left:178px;top:243px;width:95px;height:1px"></div><div class="k" style="left:271px;top:243px;width:52px;height:1px"></div><div class="k" style="left:321px;top:243px;width:87px;height:1px"></div><div class="k" style="left:407px;top:243px;width:107px;height:1px"></div><div class="k" style="left:512px;top:243px;width:123px;height:1px"></div><div class="k" style="left:634px;top:243px;width:133px;height:1px"></div><div class="k" style="left:827px;top:243px;width:76px;height:1px"></div><div class="k" style="left:902px;top:243px;width:75px;height:1px"></div><div class="k" style="left:975px;top:243px;width:76px;height:1px"></div><div class="k" style="left:3px;top:263px;width:79px;height:2px"></div><div class="k" style="left:80px;top:263px;width:43px;height:2px"></div><div class="k" style="left:121px;top:263px;width:59px;height:2px"></div><div class="k" style="left:178px;top:263px;width:95px;height:2px"></div><div class="k" style="left:271px;top:263px;width:52px;height:2px"></div><div class="k" style="left:321px;top:263px;width:87px;height:2px"></div><div class="k" style="left:407px;top:263px;width:107px;height:2px"></div><div class="k" style="left:512px;top:263px;width:123px;height:2px"></div><div class="k" style="left:634px;top:263px;width:133px;height:2px"></div><div class="k" style="left:765px;top:263px;width:64px;height:2px"></div><div class="k" style="left:827px;top:263px;width:76px;height:2px"></div><div class="k" style="left:902px;top:263px;width:75px;height:2px"></div><div class="k" style="left:975px;top:263px;width:76px;height:2px"></div><div class="k" style="left:178px;top:284px;width:95px;height:1px"></div><div class="k" style="left:271px;top:284px;width:52px;height:1px"></div><div class="k" style="left:321px;top:284px;width:87px;height:1px"></div><div class="k" style="left:407px;top:284px;width:107px;height:1px"></div><div class="k" style="left:512px;top:284px;width:123px;height:1px"></div><div class="k" style="left:634px;top:284px;width:133px;height:1px"></div><div class="k" style="left:827px;top:284px;width:76px;height:1px"></div><div class="k" style="left:902px;top:284px;width:75px;height:1px"></div><div class="k" style="left:975px;top:284px;width:76px;height:1px"></div><div class="k" style="left:178px;top:304px;width:95px;height:1px"></div><div class="k" style="left:271px;top:304px;width:52px;height:1px"></div><div class="k" style="left:321px;top:304px;width:87px;height:1px"></div><div class="k" style="left:407px;top:304px;width:107px;height:1px"></div><div class="k" style="left:512px;top:304px;width:123px;height:1px"></div><div class="k" style="left:634px;top:304px;width:133px;height:1px"></div><div class="k" style="left:827px;top:304px;width:76px;height:1px"></div><div class="k" style="left:902px;top:304px;width:75px;height:1px"></div><div class="k" style="left:975px;top:304px;width:76px;height:1px"></div><div class="k" style="left:178px;top:324px;width:95px;height:1px"></div><div class="k" style="left:271px;top:324px;width:52px;height:1px"></div><div class="k" style="left:321px;top:324px;width:87px;height:1px"></div><div class="k" style="left:407px;top:324px;width:107px;height:1px"></div><div class="k" style="left:512px;top:324px;width:123px;height:1px"></div><div class="k" style="left:634px;top:324px;width:133px;height:1px"></div><div class="k" style="left:827px;top:324px;width:76px;height:1px"></div><div class="k" style="left:902px;top:324px;width:75px;height:1px"></div><div class="k" style="left:975px;top:324px;width:76px;height:1px"></div><div class="k" style="left:3px;top:344px;width:79px;height:2px"></div><div class="k" style="left:80px;top:344px;width:43px;height:2px"></div><div class="k" style="left:121px;top:344px;width:59px;height:2px"></div><div class="k" style="left:178px;top:344px;width:95px;height:2px"></div><div class="k" style="left:271px;top:344px;width:52px;height:2px"></div><div class="k" style="left:321px;top:344px;width:87px;height:2px"></div><div class="k" style="left:407px;top:344px;width:107px;height:2px"></div><div class="k" style="left:512px;top:344px;width:123px;height:2px"></div><div class="k" style="left:634px;top:344px;width:133px;height:2px"></div><div class="k" style="left:765px;top:344px;width:64px;height:2px"></div><div class="k" style="left:827px;top:344px;width:76px;height:2px"></div><div class="k" style="left:902px;top:344px;width:75px;height:2px"></div><div class="k" style="left:975px;top:344px;width:76px;height:2px"></div><div class="k" style="left:178px;top:365px;width:95px;height:1px"></div><div class="k" style="left:271px;top:365px;width:52px;height:1px"></div><div class="k" style="left:321px;top:365px;width:87px;height:1px"></div><div class="k" style="left:407px;top:365px;width:107px;height:1px"></div><div class="k" style="left:512px;top:365px;width:123px;height:1px"></div><div class="k" style="left:634px;top:365px;width:133px;height:1px"></div><div class="k" style="left:827px;top:365px;width:76px;height:1px"></div><div class="k" style="left:902px;top:365px;width:75px;height:1px"></div><div class="k" style="left:975px;top:365px;width:76px;height:1px"></div><div class="k" style="left:178px;top:385px;width:95px;height:1px"></div><div class="k" style="left:271px;top:385px;width:52px;height:1px"></div><div class="k" style="left:321px;top:385px;width:87px;height:1px"></div><div class="k" style="left:407px;top:385px;width:107px;height:1px"></div><div class="k" style="left:512px;top:385px;width:123px;height:1px"></div><div class="k" style="left:634px;top:385px;width:133px;height:1px"></div><div class="k" style="left:827px;top:385px;width:76px;height:1px"></div><div class="k" style="left:902px;top:385px;width:75px;height:1px"></div><div class="k" style="left:975px;top:385px;width:76px;height:1px"></div><div class="k" style="left:178px;top:405px;width:95px;height:1px"></div><div class="k" style="left:271px;top:405px;width:52px;height:1px"></div><div class="k" style="left:321px;top:405px;width:87px;height:1px"></div><div class="k" style="left:407px;top:405px;width:107px;height:1px"></div><div class="k" style="left:512px;top:405px;width:123px;height:1px"></div><div class="k" style="left:634px;top:405px;width:133px;height:1px"></div><div class="k" style="left:827px;top:405px;width:76px;height:1px"></div><div class="k" style="left:902px;top:405px;width:75px;height:1px"></div><div class="k" style="left:975px;top:405px;width:76px;height:1px"></div><div class="k" style="left:3px;top:425px;width:79px;height:2px"></div><div class="k" style="left:80px;top:425px;width:43px;height:2px"></div><div class="k" style="left:121px;top:425px;width:59px;height:2px"></div><div class="k" style="left:178px;top:425px;width:95px;height:2px"></div><div class="k" style="left:271px;top:425px;width:52px;height:2px"></div><div class="k" style="left:321px;top:425px;width:87px;height:2px"></div><div class="k" style="left:407px;top:425px;width:107px;height:2px"></div><div class="k" style="left:512px;top:425px;width:123px;height:2px"></div><div class="k" style="left:634px;top:425px;width:133px;height:2px"></div><div class="k" style="left:765px;top:425px;width:64px;height:2px"></div><div class="k" style="left:827px;top:425px;width:76px;height:2px"></div><div class="k" style="left:902px;top:425px;width:75px;height:2px"></div><div class="k" style="left:975px;top:425px;width:76px;height:2px"></div><div class="k" style="left:178px;top:446px;width:95px;height:1px"></div><div class="k" style="left:271px;top:446px;width:52px;height:1px"></div><div class="k" style="left:321px;top:446px;width:87px;height:1px"></div><div class="k" style="left:407px;top:446px;width:107px;height:1px"></div><div class="k" style="left:512px;top:446px;width:123px;height:1px"></div><div class="k" style="left:634px;top:446px;width:133px;height:1px"></div><div class="k" style="left:827px;top:446px;width:76px;height:1px"></div><div class="k" style="left:902px;top:446px;width:75px;height:1px"></div><div class="k" style="left:975px;top:446px;width:76px;height:1px"></div><div class="k" style="left:178px;top:466px;width:95px;height:1px"></div><div class="k" style="left:271px;top:466px;width:52px;height:1px"></div><div class="k" style="left:321px;top:466px;width:87px;height:1px"></div><div class="k" style="left:407px;top:466px;width:107px;height:1px"></div><div class="k" style="left:512px;top:466px;width:123px;height:1px"></div><div class="k" style="left:634px;top:466px;width:133px;height:1px"></div><div class="k" style="left:827px;top:466px;width:76px;height:1px"></div><div class="k" style="left:902px;top:466px;width:75px;height:1px"></div><div class="k" style="left:975px;top:466px;width:76px;height:1px"></div><div class="k" style="left:178px;top:486px;width:95px;height:1px"></div><div class="k" style="left:271px;top:486px;width:52px;height:1px"></div><div class="k" style="left:321px;top:486px;width:87px;height:1px"></div><div class="k" style="left:407px;top:486px;width:107px;height:1px"></div><div class="k" style="left:512px;top:486px;width:123px;height:1px"></div><div class="k" style="left:634px;top:486px;width:133px;height:1px"></div><div class="k" style="left:827px;top:486px;width:76px;height:1px"></div><div class="k" style="left:902px;top:486px;width:75px;height:1px"></div><div class="k" style="left:975px;top:486px;width:76px;height:1px"></div>
</body></html>
